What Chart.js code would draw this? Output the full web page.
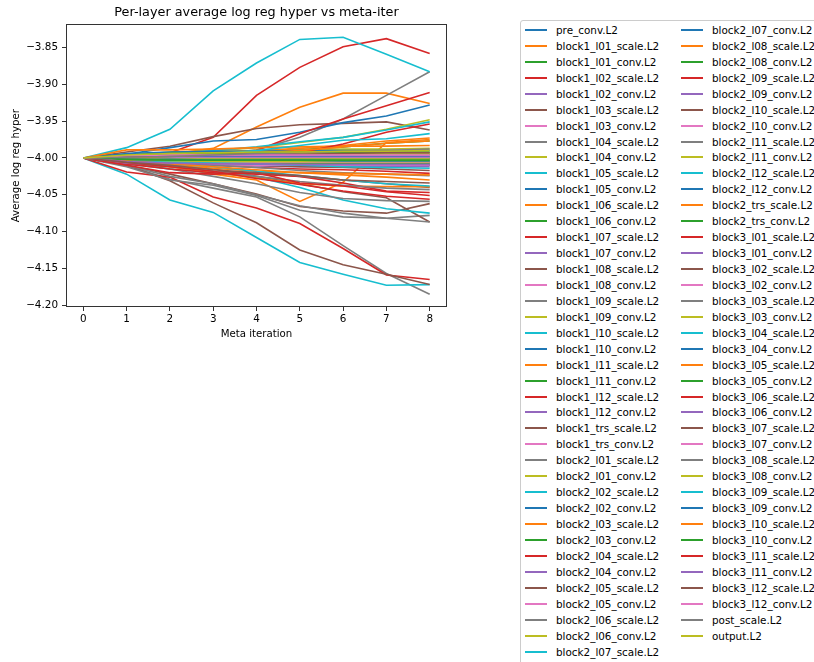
<!DOCTYPE html>
<html>
<head>
<meta charset="utf-8">
<title>Per-layer average log reg hyper vs meta-iter</title>
<script src="https://cdn.jsdelivr.net/npm/chart.js@4.4.1/dist/chart.umd.min.js"></script>
<style>
  html, body { margin: 0; padding: 0; background: #fff; }
  #page { position: relative; width: 814px; height: 662px; overflow: hidden; background: #fff; }
  #plotBox { position: absolute; left: 0; top: 0; width: 460px; height: 345px; }
  #legend {
    position: absolute; left: 520px; top: 20px; width: 340px; height: 650px;
    border: 1px solid #cccccc; border-radius: 3px; background: #fff; box-sizing: border-box;
    padding-top: 1px;
    display: grid; grid-template-rows: repeat(40, 15.95px); grid-template-columns: 156px 156px;
    grid-auto-flow: column;
    font-family: 'DejaVu Sans', sans-serif; font-size: 10.4px; color: #000;
  }
  .legend-item { display: flex; align-items: center; white-space: nowrap; }
  .legend-line { width: 22px; height: 2px; margin-left: 4px; margin-right: 9px; }
</style>
</head>
<body>
<div id="page">
  <div id="plotBox"><canvas id="hyperChart"></canvas></div>
  <div id="legend"></div>
</div>
<script>
// x axis: meta iterations
const metaIters = [0, 1, 2, 3, 4, 5, 6, 7, 8];
const yTicks = [-3.85, -3.90, -3.95, -4.00, -4.05, -4.10, -4.15, -4.20];

const layerNames = [
  'pre_conv.L2',
  'block1_l01_scale.L2', 'block1_l01_conv.L2', 'block1_l02_scale.L2', 'block1_l02_conv.L2',
  'block1_l03_scale.L2', 'block1_l03_conv.L2', 'block1_l04_scale.L2', 'block1_l04_conv.L2',
  'block1_l05_scale.L2', 'block1_l05_conv.L2', 'block1_l06_scale.L2', 'block1_l06_conv.L2',
  'block1_l07_scale.L2', 'block1_l07_conv.L2', 'block1_l08_scale.L2', 'block1_l08_conv.L2',
  'block1_l09_scale.L2', 'block1_l09_conv.L2', 'block1_l10_scale.L2', 'block1_l10_conv.L2',
  'block1_l11_scale.L2', 'block1_l11_conv.L2', 'block1_l12_scale.L2', 'block1_l12_conv.L2',
  'block1_trs_scale.L2', 'block1_trs_conv.L2',
  'block2_l01_scale.L2', 'block2_l01_conv.L2', 'block2_l02_scale.L2', 'block2_l02_conv.L2',
  'block2_l03_scale.L2', 'block2_l03_conv.L2', 'block2_l04_scale.L2', 'block2_l04_conv.L2',
  'block2_l05_scale.L2', 'block2_l05_conv.L2', 'block2_l06_scale.L2', 'block2_l06_conv.L2',
  'block2_l07_scale.L2', 'block2_l07_conv.L2', 'block2_l08_scale.L2', 'block2_l08_conv.L2',
  'block2_l09_scale.L2', 'block2_l09_conv.L2', 'block2_l10_scale.L2', 'block2_l10_conv.L2',
  'block2_l11_scale.L2', 'block2_l11_conv.L2', 'block2_l12_scale.L2', 'block2_l12_conv.L2',
  'block2_trs_scale.L2', 'block2_trs_conv.L2',
  'block3_l01_scale.L2', 'block3_l01_conv.L2', 'block3_l02_scale.L2', 'block3_l02_conv.L2',
  'block3_l03_scale.L2', 'block3_l03_conv.L2', 'block3_l04_scale.L2', 'block3_l04_conv.L2',
  'block3_l05_scale.L2', 'block3_l05_conv.L2', 'block3_l06_scale.L2', 'block3_l06_conv.L2',
  'block3_l07_scale.L2', 'block3_l07_conv.L2', 'block3_l08_scale.L2', 'block3_l08_conv.L2',
  'block3_l09_scale.L2', 'block3_l09_conv.L2', 'block3_l10_scale.L2', 'block3_l10_conv.L2',
  'block3_l11_scale.L2', 'block3_l11_conv.L2', 'block3_l12_scale.L2', 'block3_l12_conv.L2',
  'post_scale.L2', 'output.L2'
];

// one row per layer, values at meta iterations 0..8
const preValues = [
  [-4.000, -4.003, -4.002, -4.001, -4.002, -4.003, -4.002, -4.002, -4.002]
];

const block1Values = [
  [-4.000, -3.998, -3.995, -3.987, -3.958, -3.931, -3.912, -3.912, -3.926],
  [-4.000, -3.997, -3.996, -3.994, -3.992, -3.989, -3.985, -3.980, -3.977],
  [-4.000, -4.001, -3.993, -3.972, -3.915, -3.877, -3.849, -3.838, -3.858],
  [-4.000, -4.004, -4.005, -4.004, -4.005, -4.006, -4.005, -4.005, -4.004],
  [-4.000, -3.992, -3.984, -3.971, -3.960, -3.955, -3.953, -3.951, -3.962],
  [-4.000, -3.996, -3.995, -3.995, -3.994, -3.994, -3.994, -3.994, -3.994],
  [-4.000, -4.002, -4.000, -3.996, -3.989, -3.972, -3.947, -3.915, -3.883],
  [-4.000, -3.997, -3.993, -3.990, -3.986, -3.979, -3.972, -3.961, -3.948],
  [-4.000, -3.986, -3.961, -3.909, -3.871, -3.839, -3.836, -3.859, -3.883],
  [-4.000, -3.995, -3.986, -3.977, -3.975, -3.965, -3.952, -3.943, -3.928],
  [-4.000, -4.004, -4.011, -4.022, -4.030, -4.059, -4.033, -3.979, -3.975],
  [-4.000, -3.998, -3.996, -3.996, -3.995, -3.995, -3.995, -3.995, -3.995],
  [-4.000, -4.000, -3.998, -3.995, -3.990, -3.967, -3.947, -3.929, -3.911],
  [-4.000, -4.006, -4.007, -4.008, -4.008, -4.008, -4.008, -4.008, -4.008],
  [-4.000, -4.010, -4.022, -4.035, -4.049, -4.066, -4.072, -4.075, -4.062],
  [-4.000, -4.001, -4.002, -4.002, -4.002, -4.002, -4.002, -4.002, -4.002],
  [-4.000, -4.010, -4.029, -4.041, -4.053, -4.080, -4.119, -4.157, -4.185],
  [-4.000, -3.996, -3.992, -3.991, -3.990, -3.989, -3.988, -3.988, -3.987],
  [-4.000, -4.022, -4.057, -4.074, -4.108, -4.142, -4.158, -4.173, -4.172],
  [-4.000, -4.004, -4.005, -4.006, -4.006, -4.006, -4.006, -4.006, -4.006],
  [-4.000, -3.999, -3.997, -3.993, -3.990, -3.987, -3.983, -3.977, -3.973],
  [-4.000, -4.002, -4.001, -4.001, -4.001, -4.001, -4.001, -4.001, -4.001],
  [-4.000, -4.019, -4.026, -4.053, -4.068, -4.089, -4.123, -4.159, -4.165],
  [-4.000, -4.005, -4.008, -4.009, -4.010, -4.010, -4.010, -4.010, -4.010],
  [-4.000, -4.010, -4.031, -4.061, -4.088, -4.125, -4.145, -4.158, -4.172],
  [-4.000, -4.004, -4.006, -4.007, -4.007, -4.007, -4.007, -4.007, -4.007]
];

const block2Values = [
  [-4.000, -4.012, -4.030, -4.037, -4.051, -4.071, -4.080, -4.082, -4.078],
  [-4.000, -3.997, -3.996, -3.995, -3.995, -3.995, -3.995, -3.995, -3.995],
  [-4.000, -3.997, -3.994, -3.990, -3.985, -3.978, -3.972, -3.962, -3.951],
  [-4.000, -3.994, -3.992, -3.991, -3.991, -3.990, -3.990, -3.990, -3.990],
  [-4.000, -3.989, -3.989, -3.988, -3.986, -3.985, -3.984, -3.984, -3.983],
  [-4.000, -4.003, -4.004, -4.004, -4.005, -4.005, -4.005, -4.005, -4.005],
  [-4.000, -4.003, -4.005, -4.004, -4.000, -3.993, -3.981, -3.965, -3.954],
  [-4.000, -4.001, -4.000, -4.000, -4.000, -4.000, -4.000, -4.000, -4.000],
  [-4.000, -4.005, -4.010, -4.015, -4.025, -4.035, -4.046, -4.054, -4.087],
  [-4.000, -4.003, -4.004, -4.004, -4.004, -4.004, -4.004, -4.004, -4.004],
  [-4.000, -4.010, -4.025, -4.035, -4.050, -4.065, -4.075, -4.082, -4.087],
  [-4.000, -4.001, -4.000, -4.000, -4.000, -4.000, -4.000, -4.000, -4.000],
  [-4.000, -4.008, -4.015, -4.020, -4.026, -4.040, -4.057, -4.069, -4.075],
  [-4.000, -4.003, -4.004, -4.004, -4.004, -4.004, -4.004, -4.004, -4.004],
  [-4.000, -4.005, -4.010, -4.014, -4.018, -4.020, -4.023, -4.026, -4.030],
  [-4.000, -3.999, -3.998, -3.998, -3.998, -3.998, -3.998, -3.998, -3.998],
  [-4.000, -4.005, -4.008, -4.010, -4.013, -4.015, -4.016, -4.018, -4.021],
  [-4.000, -4.004, -4.005, -4.006, -4.006, -4.006, -4.006, -4.006, -4.006],
  [-4.000, -4.008, -4.012, -4.018, -4.020, -4.025, -4.030, -4.035, -4.040],
  [-4.000, -3.999, -3.999, -3.999, -3.999, -3.999, -3.999, -3.999, -3.999],
  [-4.000, -4.006, -4.015, -4.025, -4.035, -4.047, -4.055, -4.058, -4.059],
  [-4.000, -4.002, -4.003, -4.003, -4.003, -4.003, -4.003, -4.003, -4.003],
  [-4.000, -4.000, -3.998, -3.995, -3.990, -3.983, -3.976, -3.974, -3.967],
  [-4.000, -4.005, -4.007, -4.008, -4.009, -4.010, -4.010, -4.010, -4.010],
  [-4.000, -4.003, -4.012, -4.020, -4.027, -4.035, -4.038, -4.039, -4.039],
  [-4.000, -4.006, -4.007, -4.008, -4.008, -4.008, -4.008, -4.008, -4.008]
];

const block3Values = [
  [-4.000, -4.008, -4.015, -4.020, -4.022, -4.025, -4.034, -4.045, -4.047],
  [-4.000, -4.007, -4.009, -4.010, -4.011, -4.012, -4.012, -4.012, -4.012],
  [-4.000, -4.003, -4.006, -4.008, -4.010, -4.012, -4.013, -4.015, -4.017],
  [-4.000, -4.006, -4.008, -4.009, -4.010, -4.010, -4.010, -4.010, -4.010],
  [-4.000, -4.005, -4.010, -4.018, -4.025, -4.032, -4.037, -4.041, -4.043],
  [-4.000, -3.998, -3.995, -3.994, -3.993, -3.993, -3.993, -3.993, -3.993],
  [-4.000, -4.003, -4.008, -4.012, -4.018, -4.024, -4.030, -4.035, -4.038],
  [-4.000, -3.999, -3.998, -3.998, -3.998, -3.998, -3.998, -3.998, -3.998],
  [-4.000, -4.000, -3.998, -3.996, -3.993, -3.990, -3.985, -3.980, -3.977],
  [-4.000, -3.996, -3.994, -3.993, -3.993, -3.992, -3.992, -3.992, -3.992],
  [-4.000, -4.010, -4.020, -4.022, -4.020, -4.034, -4.038, -4.046, -4.051],
  [-4.000, -3.998, -3.997, -3.997, -3.997, -3.997, -3.997, -3.997, -3.997],
  [-4.000, -3.998, -3.997, -3.996, -3.995, -3.995, -3.994, -3.993, -3.993],
  [-4.000, -4.005, -4.006, -4.006, -4.006, -4.006, -4.006, -4.006, -4.006],
  [-4.000, -4.003, -4.006, -4.010, -4.013, -4.017, -4.020, -4.022, -4.024],
  [-4.000, -4.004, -4.005, -4.005, -4.005, -4.005, -4.005, -4.005, -4.005],
  [-4.000, -4.004, -4.006, -4.007, -4.008, -4.010, -4.012, -4.013, -4.014],
  [-4.000, -4.002, -4.002, -4.003, -4.003, -4.003, -4.004, -4.004, -4.004],
  [-4.000, -4.004, -4.008, -4.012, -4.016, -4.020, -4.021, -4.022, -4.023],
  [-4.000, -4.002, -4.003, -4.003, -4.003, -4.003, -4.003, -4.003, -4.003],
  [-4.000, -4.006, -4.012, -4.018, -4.028, -4.036, -4.045, -4.052, -4.056],
  [-4.000, -4.005, -4.007, -4.008, -4.008, -4.009, -4.009, -4.009, -4.009],
  [-4.000, -4.006, -4.010, -4.016, -4.020, -4.024, -4.030, -4.032, -4.034],
  [-4.000, -3.997, -3.996, -3.996, -3.996, -3.996, -3.996, -3.996, -3.996]
];

const postValues = [
  [-4.000, -3.999, -3.998, -3.996, -3.994, -3.993, -3.991, -3.990, -3.988],
  [-4.000, -3.996, -3.994, -3.993, -3.992, -3.992, -3.991, -3.991, -3.990]
];

// matplotlib tab10 cycle
const tab10 = ['#1f77b4', '#ff7f0e', '#2ca02c', '#d62728', '#9467bd',
               '#8c564b', '#e377c2', '#7f7f7f', '#bcbd22', '#17becf'];

const allValues = [...preValues, ...block1Values, ...block2Values, ...block3Values, ...postValues];

const datasets = allValues.map((row, i) => ({
  label: layerNames[i],
  data: row.map((v, j) => ({ x: metaIters[j], y: v })),
  borderColor: tab10[i % 10],
  backgroundColor: tab10[i % 10],
  borderWidth: 1.6,
  pointRadius: 0,
  tension: 0,
  fill: false,
  order: -i // later series on top, like matplotlib
}));

// autoscale with 5% margins like matplotlib
const flat = allValues.flat();
const yMin = Math.min(...flat), yMax = Math.max(...flat);
const yPad = (yMax - yMin) * 0.05;
const xPad = (metaIters[metaIters.length - 1] - metaIters[0]) * 0.05;

const minusFmt = v => (v < 0 ? '\u2212' : '') + Math.abs(v).toFixed(2);

// frame around the axes (all four spines)
const framePlugin = {
  id: 'frame',
  afterDatasetsDraw(chart) {
    const { ctx, chartArea: a } = chart;
    ctx.save();
    ctx.strokeStyle = '#333';
    ctx.lineWidth = 1;
    ctx.strokeRect(Math.round(a.left) + 0.5, Math.round(a.top) + 0.5,
                   Math.round(a.right - a.left) - 1, Math.round(a.bottom - a.top) - 1);
    ctx.restore();
  }
};

Chart.defaults.font.family = "'DejaVu Sans', sans-serif";
Chart.defaults.font.size = 10;
Chart.defaults.color = '#000';

const hyperChart = new Chart(document.getElementById('hyperChart'), {
  type: 'line',
  data: { datasets: datasets },
  options: {
    responsive: true,
    maintainAspectRatio: false,
    animation: false,
    layout: { padding: { left: 0, right: 13, top: 0, bottom: 0 } },
    scales: {
      x: {
        type: 'linear',
        min: metaIters[0] - xPad,
        max: metaIters[metaIters.length - 1] + xPad,
        afterBuildTicks: scale => { scale.ticks = metaIters.map(v => ({ value: v })); },
        afterFit: scale => { scale.height = 38; },
        ticks: { padding: 2, font: { size: 10.4 }, callback: v => String(v), maxRotation: 0 },
        grid: { drawOnChartArea: false, drawTicks: true, tickLength: 4, tickColor: '#333' },
        border: { display: false },
        title: { display: true, text: 'Meta iteration', font: { size: 10.2 }, padding: { top: 0, bottom: 5 } }
      },
      y: {
        type: 'linear',
        min: yMin - yPad,
        max: yMax + yPad,
        afterBuildTicks: scale => { scale.ticks = yTicks.map(v => ({ value: v })); },
        afterFit: scale => { scale.width = 66; },
        ticks: { padding: 4, font: { size: 10.4 }, callback: v => minusFmt(v) },
        grid: { drawOnChartArea: false, drawTicks: true, tickLength: 4, tickColor: '#333' },
        border: { display: false },
        title: { display: true, text: 'Average log reg hyper', font: { size: 10.2 }, padding: { top: 10, bottom: 0 } }
      }
    },
    plugins: {
      legend: { display: false },
      tooltip: { enabled: false },
      title: {
        display: true,
        fullSize: false,
        text: 'Per-layer average log reg hyper vs meta-iter',
        font: { size: 12.8, weight: 'normal' },
        color: '#000',
        padding: { top: 5, bottom: 4 }
      }
    }
  },
  plugins: [framePlugin]
});

// legend box to the right, two columns like the original
const legendEl = document.getElementById('legend');
hyperChart.data.datasets.forEach(ds => {
  const item = document.createElement('div');
  item.className = 'legend-item';
  item.innerHTML = `<span class="legend-line" style="background-color:${ds.borderColor}"></span><span>${ds.label}</span>`;
  legendEl.appendChild(item);
});
</script>
</body>
</html>
